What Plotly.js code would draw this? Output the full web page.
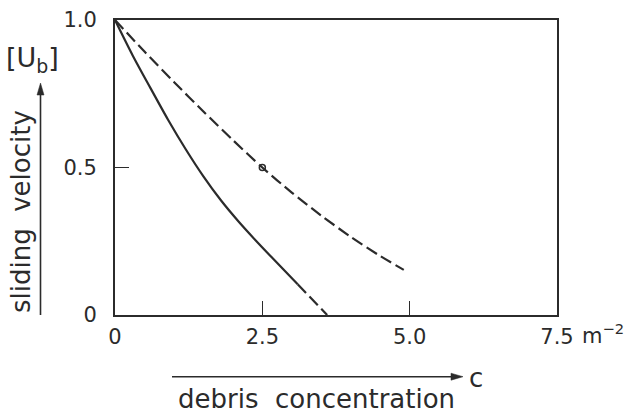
<!DOCTYPE html>
<html>
<head>
<meta charset="utf-8">
<script src="https://cdn.plot.ly/plotly-3.0.1.min.js"></script>
<style>html,body{margin:0;padding:0;background:#fff;}#chart{width:643px;height:418px;}</style>
</head>
<body>
<div id="chart"></div>
<script>
// Solid curve (continues as a dashed tail down to zero)
const solidC = [0, 0.3, 0.6, 0.9, 1.2, 1.5, 1.8, 2.1, 2.4, 2.7, 3.1];
const solidU = [1.0, 0.88, 0.77, 0.662, 0.562, 0.47, 0.388, 0.316, 0.25, 0.187, 0.104];
const tailC = [3.1, 3.35, 3.6];
const tailU = [0.104, 0.052, 0.0];
// Upper dashed curve
const dashC = [0, 0.5, 1.0, 1.5, 2.0, 2.5, 3.0, 3.5, 4.0, 4.5, 4.9];
const dashU = [1.0, 0.893, 0.79, 0.69, 0.593, 0.5, 0.415, 0.337, 0.265, 0.2, 0.153];
// Marked point
const pointC = [2.5];
const pointU = [0.5];
// Ticks
const xTickVals = [0, 2.5, 5.0, 7.5];
const xTickText = ['0', '2.5', '5.0', '7.5'];
const yTickVals = [0, 0.5, 1.0];
const yTickText = ['0', '0.5', '1.0'];

const ink = '#2b2b2b';
const fam = 'DejaVu Sans, Liberation Sans, Arial, sans-serif';

const traces = [
  {x: solidC, y: solidU, mode: 'lines', line: {color: ink, width: 2.2, shape: 'spline', smoothing: 0.8}, hoverinfo: 'skip'},
  {x: tailC, y: tailU, mode: 'lines', line: {color: ink, width: 2.2, dash: '12px,5px'}, hoverinfo: 'skip'},
  {x: dashC, y: dashU, mode: 'lines', line: {color: ink, width: 2.2, dash: '12px,5px', shape: 'spline', smoothing: 0.8}, hoverinfo: 'skip'},
  {x: pointC, y: pointU, mode: 'markers', marker: {symbol: 'circle-open', size: 6, color: ink, line: {width: 1.5, color: ink}}, hoverinfo: 'skip'}
];

function px(v) { return (v - 115) / 442; }
function py(v) { return (315 - v) / 295; }

const layout = {
  width: 643, height: 418,
  margin: {l: 115, r: 86, t: 20, b: 103},
  paper_bgcolor: '#ffffff', plot_bgcolor: '#ffffff',
  showlegend: false,
  font: {family: fam, color: ink},
  xaxis: {
    range: [0, 7.5], tickvals: xTickVals, ticktext: xTickText,
    ticks: 'inside', ticklen: 14, tickwidth: 1.5, tickcolor: ink,
    showline: true, mirror: true, linecolor: ink, linewidth: 2,
    showgrid: false, zeroline: false,
    tickfont: {family: fam, size: 21, color: ink}, ticklabelstandoff: 2
  },
  yaxis: {
    range: [0, 1.0], tickvals: yTickVals, ticktext: yTickText,
    ticks: 'inside', ticklen: 14, tickwidth: 1.5, tickcolor: ink,
    showline: true, mirror: true, linecolor: ink, linewidth: 2,
    showgrid: false, zeroline: false,
    tickfont: {family: fam, size: 21, color: ink}, ticklabelstandoff: 12
  },
  shapes: [
    // vertical arrow beside the y title
    {type: 'line', xref: 'paper', yref: 'paper', x0: px(40.5), x1: px(40.5), y0: py(315), y1: py(92),
     line: {color: ink, width: 1.6}},
    {type: 'path', xref: 'paper', yref: 'paper',
     path: `M ${px(40.5)} ${py(83)} L ${px(37)} ${py(95)} L ${px(44)} ${py(95)} Z`,
     fillcolor: ink, line: {color: ink, width: 0.5}},
    // horizontal arrow above the x title
    {type: 'line', xref: 'paper', yref: 'paper', x0: px(172), x1: px(454), y0: py(376.7), y1: py(376.7),
     line: {color: ink, width: 1.6}},
    {type: 'path', xref: 'paper', yref: 'paper',
     path: `M ${px(463)} ${py(376.7)} L ${px(451)} ${py(373.2)} L ${px(451)} ${py(380.2)} Z`,
     fillcolor: ink, line: {color: ink, width: 0.5}}
  ],
  annotations: [
    {xref: 'paper', yref: 'paper', x: px(580), y: py(334), xanchor: 'left', yanchor: 'middle',
     text: 'm<sup>−2</sup>', showarrow: false, font: {family: fam, size: 21, color: ink}},
    {xref: 'paper', yref: 'paper', x: px(316.5), y: py(399), xanchor: 'center', yanchor: 'middle',
     text: 'debris\u00a0 concentration', showarrow: false, font: {family: fam, size: 26, color: ink}},
    {xref: 'paper', yref: 'paper', x: px(476), y: py(378), xanchor: 'center', yanchor: 'middle',
     text: 'c', showarrow: false, font: {family: fam, size: 26, color: ink}},
    {xref: 'paper', yref: 'paper', x: px(21), y: py(212), xanchor: 'center', yanchor: 'middle', textangle: -90,
     text: 'sliding\u00a0 velocity', showarrow: false, font: {family: fam, size: 26, color: ink}},
    {xref: 'paper', yref: 'paper', x: px(32), y: py(59), xanchor: 'center', yanchor: 'middle',
     text: '[U<sub>b</sub>]', showarrow: false, font: {family: fam, size: 27, color: ink}}
  ]
};

Plotly.newPlot('chart', traces, layout, {displayModeBar: false, staticPlot: true});
</script>
</body>
</html>
